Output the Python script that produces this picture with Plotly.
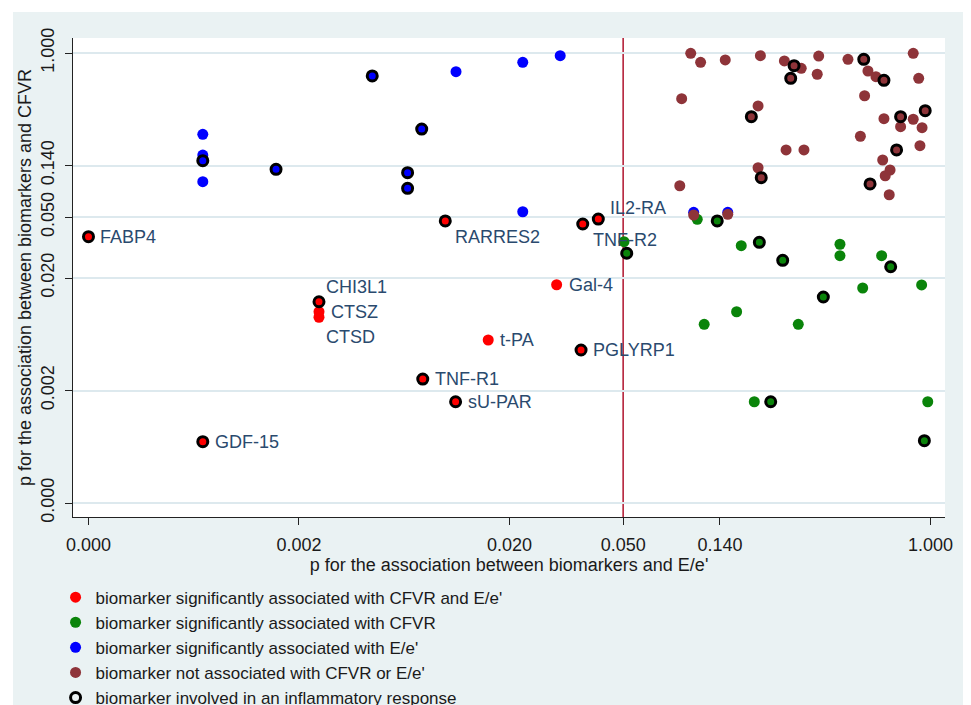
import plotly.graph_objects as go

# Axis positions are on the study's stretched p-value scale; ticks carry the p labels.
TICK_VALS = [0, 1, 2, 2.54, 3.0, 4.0]
TICK_TEXT = ["0.000", "0.002", "0.020", "0.050", "0.140", "1.000"]
SIG_LEVEL = 2.54  # p = 0.05 on the same scale

# red: significantly associated with CFVR and E/e'
RED_X = [0.0, 1.095, 1.095, 1.095, 2.224, 1.899, 2.340, 1.588, 1.744, 0.543, 1.695, 2.348, 2.422]
RED_Y = [2.367, 1.789, 1.700, 1.651, 1.940, 1.449, 1.360, 1.102, 0.900, 0.545, 2.507, 2.480, 2.524]
RED_INFL = [1, 1, 0, 0, 0, 0, 1, 1, 1, 1, 1, 1, 1]
RED_LABEL = ["FABP4", "CHI3L1", "CTSZ", "CTSD", "Gal-4", "t-PA", "PGLYRP1",
             "TNF-R1", "sU-PAR", "GDF-15", "RARRES2", "TNF-R2", "IL2-RA"]
RED_LABEL_POS = [3, 1, 3, 5, 3, 3, 3, 3, 3, 3, 4, 4, 2]  # clock position of label

# green: significantly associated with CFVR
GREEN_X = [2.892, 2.987, 2.544, 2.557, 3.101, 3.187, 3.298, 3.570, 3.570, 3.768, 3.811,
           3.678, 3.958, 3.491, 3.079, 2.925, 3.372, 3.163, 3.241, 3.987, 3.971]
GREEN_Y = [2.522, 2.507, 2.323, 2.220, 2.287, 2.317, 2.157, 2.300, 2.198, 2.198, 2.100,
           1.911, 1.938, 1.831, 1.700, 1.588, 1.588, 0.900, 0.900, 0.900, 0.554]
GREEN_INFL = [0, 1, 0, 1, 0, 1, 1, 0, 0, 0, 1, 0, 0, 1, 0, 0, 0, 0, 1, 0, 1]

# blue: significantly associated with E/e'
BLUE_X = [0.543, 0.543, 0.543, 0.543, 0.891, 1.348, 1.746, 2.063, 2.241, 1.583, 1.516,
          1.516, 2.063, 2.875, 3.037]
BLUE_Y = [3.277, 3.093, 3.043, 2.856, 2.966, 3.796, 3.834, 3.917, 3.976, 3.324, 2.936,
          2.797, 2.589, 2.584, 2.584]
BLUE_INFL = [0, 0, 1, 0, 1, 1, 0, 0, 0, 1, 1, 1, 0, 0, 0]

# brown: not associated with CFVR or E/e'
BROWN_X = [2.861, 2.908, 3.025, 3.192, 3.306, 3.352, 3.386, 3.336, 3.469, 3.462,
           3.608, 3.683, 3.703, 3.741, 3.779, 3.918, 3.944, 2.818, 3.181, 3.149,
           3.687, 3.779, 3.858, 3.918, 3.975, 3.858, 3.960, 3.667, 3.314, 3.399,
           3.839, 3.950, 3.773, 3.181, 3.196, 3.808, 3.785, 3.713, 3.804, 2.809,
           2.875, 3.037]
BROWN_Y = [3.997, 3.917, 3.938, 3.976, 3.929, 3.887, 3.864, 3.775, 3.973, 3.811,
           3.944, 3.944, 3.840, 3.789, 3.757, 3.997, 3.775, 3.594, 3.529, 3.434,
           3.620, 3.416, 3.434, 3.411, 3.487, 3.345, 3.336, 3.260, 3.138, 3.138,
           3.138, 3.176, 3.049, 2.980, 2.892, 2.960, 2.909, 2.836, 2.740, 2.820,
           2.560, 2.566]
BROWN_INFL = [0, 0, 0, 0, 0, 1, 0, 1, 0, 0,
              0, 1, 0, 0, 1, 0, 0, 0, 0, 1,
              0, 0, 1, 0, 1, 0, 0, 0, 0, 0,
              1, 0, 0, 0, 1, 0, 0, 1, 0, 0,
              0, 0]

GROUPS = [
    ("biomarker significantly associated with CFVR and E/e'", "#ff0000", RED_X, RED_Y, RED_INFL),
    ("biomarker significantly associated with CFVR", "#0a840a", GREEN_X, GREEN_Y, GREEN_INFL),
    ("biomarker significantly associated with E/e'", "#0000ff", BLUE_X, BLUE_Y, BLUE_INFL),
    ("biomarker not associated with CFVR or E/e'", "#8e3439", BROWN_X, BROWN_Y, BROWN_INFL),
]

FONT = "Liberation Sans, Arial, sans-serif"
BG = "#eaf2f3"
LINE_RED = "#b5223a"
LABEL_COL = "#2a4a6e"
TEXT_COL = "#1a1a1a"

# label offsets (px) for each clock position
_POS_SHIFT = {1: (5, 15), 2: (10, 11), 3: (10, 0), 4: (8, -16), 5: (5, -20)}

fig = go.Figure()

for name, color, xs, ys, _ in GROUPS:
    fig.add_trace(go.Scatter(
        x=xs, y=ys, mode="markers", name=name,
        marker=dict(color=color, size=11, line=dict(width=0)),
        hoverinfo="skip",
    ))

ring_x, ring_y = [], []
for _, _, xs, ys, infl in GROUPS:
    for x, y, f in zip(xs, ys, infl):
        if f:
            ring_x.append(x)
            ring_y.append(y)

fig.add_trace(go.Scatter(
    x=ring_x, y=ring_y, mode="markers",
    name="biomarker involved in an inflammatory response",
    marker=dict(symbol="circle-open", color="black", size=10, line=dict(width=3)),
    hoverinfo="skip",
))

for x, y, lab, pos in zip(RED_X, RED_Y, RED_LABEL, RED_LABEL_POS):
    dx, dy = _POS_SHIFT[pos]
    fig.add_annotation(
        x=x, y=y, text=lab, showarrow=False,
        xanchor="left", yanchor="middle", xshift=dx, yshift=dy,
        font=dict(family=FONT, size=18, color=LABEL_COL),
    )

# p = 0.05 reference lines
fig.add_shape(type="line", xref="x", yref="paper", x0=SIG_LEVEL, x1=SIG_LEVEL, y0=0, y1=1,
              line=dict(color=LINE_RED, width=1.6), layer="below")
fig.add_shape(type="line", xref="paper", yref="y", x0=0, x1=1, y0=SIG_LEVEL, y1=SIG_LEVEL,
              line=dict(color=LINE_RED, width=1.6), layer="below")

# white frame strips round the graph region
fig.add_shape(type="rect", xref="paper", yref="paper", x0=-0.2, x1=-0.0688, y0=-0.5, y1=1.2,
              line=dict(width=0), fillcolor="white")
fig.add_shape(type="rect", xref="paper", yref="paper", x0=-0.2, x1=1.2, y0=1.0543, y1=1.2,
              line=dict(width=0), fillcolor="white")

axis_common = dict(
    tickvals=TICK_VALS, ticktext=TICK_TEXT,
    ticks="outside", ticklen=7, tickwidth=1, tickcolor="#222",
    showline=True, linecolor="#222", linewidth=1,
    zeroline=False, automargin=False,
    tickfont=dict(family=FONT, size=18, color=TEXT_COL),
)

fig.update_xaxes(
    range=[-0.0736, 4.069], showgrid=False, ticklabelstandoff=4,
    title=dict(text="p for the association between biomarkers and E/e'",
               font=dict(family=FONT, size=18, color=TEXT_COL), standoff=4),
    **axis_common,
)
fig.update_yaxes(
    range=[-0.1244, 4.1333], showgrid=True, gridcolor="#dde9ee", gridwidth=1.5,
    tickangle=-90, ticklabelstandoff=4,
    title=dict(text="p for the association between biomarkers and CFVR",
               font=dict(family=FONT, size=18, color=TEXT_COL), standoff=1),
    **axis_common,
)

# the page adds an 8px body margin, so the figure is 8px smaller than the window
fig.update_layout(
    width=963, height=697,
    margin=dict(l=65, r=26, t=30, b=188, autoexpand=False),
    paper_bgcolor=BG, plot_bgcolor="white",
    font=dict(family=FONT, size=17, color=TEXT_COL),
    legend=dict(
        orientation="v", x=-0.02, xanchor="left", y=-0.1307, yanchor="top",
        bgcolor="rgba(0,0,0,0)", font=dict(family=FONT, size=17, color=TEXT_COL),
        itemclick=False,
    ),
)

fig.write_html("out.html")
